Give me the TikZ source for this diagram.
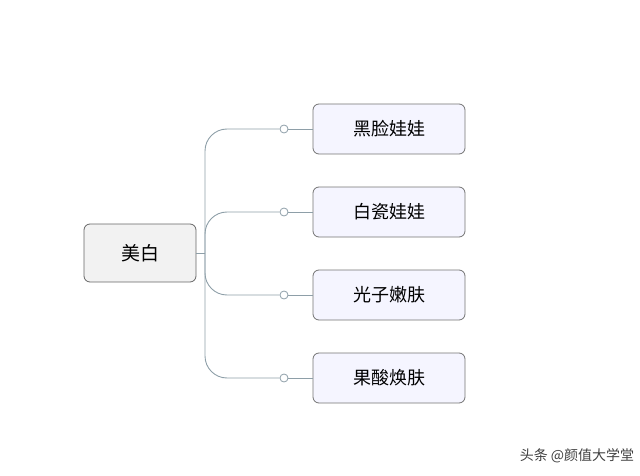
\documentclass[tikz,border=0pt]{standalone}
\usepackage{fontspec}
\setmainfont{Noto Sans CJK SC}
\begin{document}
\begin{tikzpicture}[x=1pt,y=-1pt,
  rootbox/.style={draw=black!60,fill=black!5,rounded corners=6pt,minimum width=112pt,minimum height=58pt,font=\fontsize{19}{22}\selectfont,line width=0.8pt},
  childbox/.style={draw=black!55,fill=blue!4!white,rounded corners=6pt,minimum width=152pt,minimum height=50pt,font=\fontsize{18}{22}\selectfont,line width=0.8pt},
  conn/.style={draw=cyan!30!black!55,line width=0.9pt},
  dot/.style={circle,draw=cyan!30!black!55,fill=white,inner sep=0pt,minimum size=8pt,line width=0.8pt}]
\useasboundingbox (0,0) rectangle (640,476);
\node[rootbox] (r) at (140,253) {美白};
\coordinate (t) at (205,253);
\draw[conn] (r.east) -- (t);
\foreach \i/\y/\txt in {1/129/黑脸娃娃,2/212/白瓷娃娃,3/295/光子嫩肤,4/378/果酸焕肤}{
  \node[childbox] (c\i) at (389,\y) {\txt};
  \node[dot] (d\i) at (284,\y) {};
  \draw[conn,rounded corners=22pt] (t) -- (205,\y) -- (d\i.west);
  \draw[conn] (d\i.east) -- (c\i.west);
}
\node[font=\fontsize{14}{16}\selectfont,text=black!75] (w) at (577,456) {头条 @颜值大学堂};
\end{tikzpicture}
\end{document}
